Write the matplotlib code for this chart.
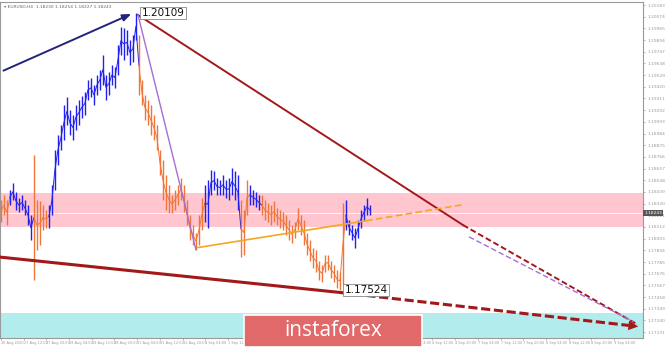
import matplotlib.pyplot as plt
from matplotlib.patches import Rectangle
import numpy as np

# EURUSD bars (high / low), one bar per index
highs = [1.1836, 1.1841, 1.1836, 1.1846, 1.1852, 1.1844, 1.1838, 1.1841, 1.1836, 1.1832,
         1.1822, 1.1878, 1.1836, 1.1835, 1.1832, 1.1827, 1.1832, 1.1850, 1.1883, 1.1897,
         1.1906, 1.1925, 1.1932, 1.1920, 1.1916, 1.1925, 1.1930, 1.1933, 1.1937, 1.1948,
         1.1950, 1.1944, 1.1953, 1.1958, 1.1972, 1.1953, 1.1956, 1.1962, 1.1960, 1.1981,
         1.1998, 1.1997, 1.1995, 1.1986, 1.1990, 1.20109, 1.1990, 1.1948, 1.1934, 1.1930,
         1.1925, 1.1916, 1.1906, 1.1883, 1.1874, 1.1860, 1.1850, 1.1841, 1.1846, 1.1850,
         1.1857, 1.1850, 1.1836, 1.1822, 1.1813, 1.1806, 1.1822, 1.1838, 1.1850, 1.1855,
         1.1864, 1.1863, 1.1857, 1.1855, 1.1860, 1.1855, 1.1857, 1.1866, 1.1863, 1.1860,
         1.1836, 1.1827, 1.1855, 1.1850, 1.1846, 1.1844, 1.1841, 1.1841, 1.1836, 1.1834,
         1.1832, 1.1835, 1.1829, 1.1827, 1.1825, 1.1822, 1.1818, 1.1813, 1.1816, 1.1829,
         1.1822, 1.1818, 1.1806, 1.1799, 1.1792, 1.1790, 1.1779, 1.1776, 1.1785, 1.1785,
         1.1779, 1.1776, 1.1771, 1.1769, 1.1834, 1.1836, 1.1818, 1.1813, 1.1810, 1.1818,
         1.1827, 1.1832, 1.1838, 1.1832]
lows = [1.1816, 1.1822, 1.1813, 1.1832, 1.1836, 1.1827, 1.1825, 1.1827, 1.1822, 1.1813,
        1.1799, 1.1762, 1.1790, 1.1794, 1.1808, 1.1810, 1.1810, 1.1822, 1.1846, 1.1869,
        1.1883, 1.1892, 1.1906, 1.1897, 1.1892, 1.1902, 1.1906, 1.1913, 1.1916, 1.1930,
        1.1932, 1.1925, 1.1934, 1.1939, 1.1944, 1.1930, 1.1934, 1.1944, 1.1941, 1.1953,
        1.1972, 1.1967, 1.1972, 1.1962, 1.1965, 1.1986, 1.1934, 1.1925, 1.1911, 1.1906,
        1.1897, 1.1892, 1.1883, 1.1860, 1.1836, 1.1827, 1.1824, 1.1824, 1.1827, 1.1832,
        1.1836, 1.1825, 1.1813, 1.1799, 1.1794, 1.1790, 1.1794, 1.1808, 1.1816, 1.1810,
        1.1841, 1.1846, 1.1841, 1.1841, 1.1841, 1.1838, 1.1836, 1.1841, 1.1836, 1.1827,
        1.1783, 1.1785, 1.1822, 1.1832, 1.1832, 1.1830, 1.1827, 1.1822, 1.1818, 1.1816,
        1.1813, 1.1816, 1.1813, 1.1810, 1.1808, 1.1804, 1.1799, 1.1796, 1.1801, 1.1808,
        1.1804, 1.1794, 1.1785, 1.1779, 1.1773, 1.1769, 1.1762, 1.1760, 1.1769, 1.1771,
        1.1764, 1.1760, 1.1754, 1.17524, 1.1757, 1.1808, 1.1804, 1.1799, 1.1792, 1.1801,
        1.1810, 1.1818, 1.1822, 1.1822]

# zigzag waves: first bar of each wave and its direction
wave_starts = [0, 3, 11, 16, 46, 68, 80, 83, 87, 115]
wave_dirs = ['down', 'up', 'down', 'up', 'down', 'up', 'down', 'up', 'down', 'up']

# trend lines (bar index, price)
navy_line = ([0, 44.3], [1.1956, 1.2011])
top_red_solid = ([45.7, 154], [1.2009, 1.1813])
top_red_dash = ([154, 212.3], [1.1813, 1.1720])
purple_solid = ([45.7, 65], [1.2009, 1.1790])
purple_dash = ([156, 210.7], [1.1802, 1.1723])
orange_solid = ([65.7, 121.7], [1.1792, 1.1817])
orange_dash = ([121.7, 154], [1.1817, 1.1832])
bottom_solid = ([0, 113.3], [1.1783, 1.1750])
bottom_dash = ([113.3, 213.3], [1.1750, 1.1718])

pink_zone = (1.1811, 1.1843)
cyan_zone = (1.1708, 1.1731)
peak_label = (45.7, 1.20109, "1.20109")
low_label = (113.3, 1.17524, "1.17524")
last_price = 1.18243

price_ticks = np.arange(1.20183, 1.1707, -0.00109)
time_labels = ["26 Aug 2020", "27 Aug 12:00", "27 Aug 20:00", "28 Aug 04:00", "28 Aug 12:00",
               "28 Aug 20:00", "31 Aug 04:00", "31 Aug 12:00", "31 Aug 20:00", "1 Sep 04:00",
               "1 Sep 12:00", "1 Sep 20:00", "2 Sep 04:00", "2 Sep 12:00", "2 Sep 20:00",
               "3 Sep 04:00", "3 Sep 12:00", "3 Sep 20:00", "4 Sep 04:00", "4 Sep 12:00",
               "4 Sep 20:00", "7 Sep 04:00", "7 Sep 12:00", "7 Sep 20:00", "8 Sep 04:00",
               "8 Sep 12:00", "8 Sep 20:00", "9 Sep 04:00"]

BLUE = '#2020f0'
ORANGE = '#f07638'
DARK_RED = '#a3191b'

fig = plt.figure(figsize=(6.65, 3.47), dpi=100)
ax = fig.add_axes([0, 9 / 347, 643 / 665, 336 / 347])
ax.set_xlim(-0.3, 214)
ax.set_ylim(1.17076, 1.20211)

ax.axhspan(*pink_zone, color='#ffc6d0', zorder=0, lw=0)
ax.axhspan(*cyan_zone, color='#b2ecec', zorder=0, lw=0)
ax.axhline(last_price, color='white', lw=0.6, zorder=1)

x = np.arange(len(highs))
bounds = wave_starts + [len(highs)]
for k, d in enumerate(wave_dirs):
    s, e = bounds[k], bounds[k + 1]
    c = BLUE if d == 'up' else ORANGE
    ax.vlines(x[s:e], lows[s:e], highs[s:e], color=c, lw=1.0, zorder=3)
    mid = [(h + l) / 2 for h, l in zip(highs[s:e + 1], lows[s:e + 1])]
    ax.plot(x[s:s + len(mid)], mid, color=c, lw=0.7, zorder=3)

ax.plot(*top_red_solid, color=DARK_RED, lw=1.4, zorder=4)
ax.plot(*top_red_dash, color=DARK_RED, lw=1.4, ls=(0, (3, 1.5)), zorder=4)
ax.plot(*purple_solid, color='#a66ed6', lw=1.0, zorder=4)
ax.plot(*purple_dash, color='#a66ed6', lw=1.0, ls=(0, (4, 2)), zorder=4)
ax.plot(*orange_solid, color='#f5a623', lw=1.2, zorder=4)
ax.plot(*orange_dash, color='#f5a623', lw=1.2, ls=(0, (4, 2)), zorder=4)
ax.plot(*bottom_solid, color=DARK_RED, lw=2.2, zorder=4)
ax.plot(bottom_dash[0][:1] + [bottom_dash[0][1] - 4], [bottom_dash[1][0], bottom_dash[1][1] + 0.00013],
        color=DARK_RED, lw=2.2, ls=(0, (3, 1.2)), zorder=4)
ax.annotate('', xy=(bottom_dash[0][1], bottom_dash[1][1]),
            xytext=(bottom_dash[0][1] - 4.5, bottom_dash[1][1] + 0.00015),
            arrowprops=dict(arrowstyle='-|>,head_length=0.7,head_width=0.35', color=DARK_RED, lw=0),
            zorder=5)
ax.annotate('', xy=(navy_line[0][1], navy_line[1][1]), xytext=(navy_line[0][0], navy_line[1][0]),
            arrowprops=dict(arrowstyle='-|>,head_length=0.5,head_width=0.2', color='#23237e', lw=1.4),
            zorder=5)

for lx, ly, txt in [peak_label, low_label]:
    ax.text(lx + 1.2, ly, txt, fontsize=7.5, va='center', ha='left', color='#111', zorder=6,
            bbox=dict(boxstyle='square,pad=0.12', fc='white', ec='#888', lw=0.6))

ax.yaxis.tick_right()
ax.set_yticks(price_ticks)
ax.set_yticklabels(["%.5f" % p for p in price_ticks], fontsize=3.2, color='#999')
ax.tick_params(axis='y', length=1.5, width=0.5, pad=2, colors='#999')
ax.set_xticks(np.arange(len(time_labels)) * 7.57)
ax.set_xticklabels(time_labels, fontsize=2.5, color='#999', ha='left')
ax.tick_params(axis='x', length=1.5, width=0.5, pad=1, colors='#999')
for sp in ax.spines.values():
    sp.set_color('#9a9a9a')
    sp.set_linewidth(0.8)

ax.text(1.002, last_price, "%.5f" % last_price, transform=ax.get_yaxis_transform(), fontsize=3.2,
        color='white', va='center', ha='left', zorder=7,
        bbox=dict(boxstyle='square,pad=0.2', fc='#555', ec='none'))

fig.text(0.006, 0.985, "\u25be EURUSD,H4  1.18230 1.18254 1.18227 1.18243", fontsize=3.2,
         color='#666', va='top')

fig.patches.append(Rectangle((244 / 665, 0), 178 / 665, 32 / 347, transform=fig.transFigure,
                             facecolor='#e26969', edgecolor='white', lw=1.2, zorder=10))
fig.text(333 / 665, 16 / 347, "instaforex", fontsize=15, color='white', ha='center', va='center',
         family='Open Sans', zorder=11)

fig.savefig('out.png', dpi=100)
